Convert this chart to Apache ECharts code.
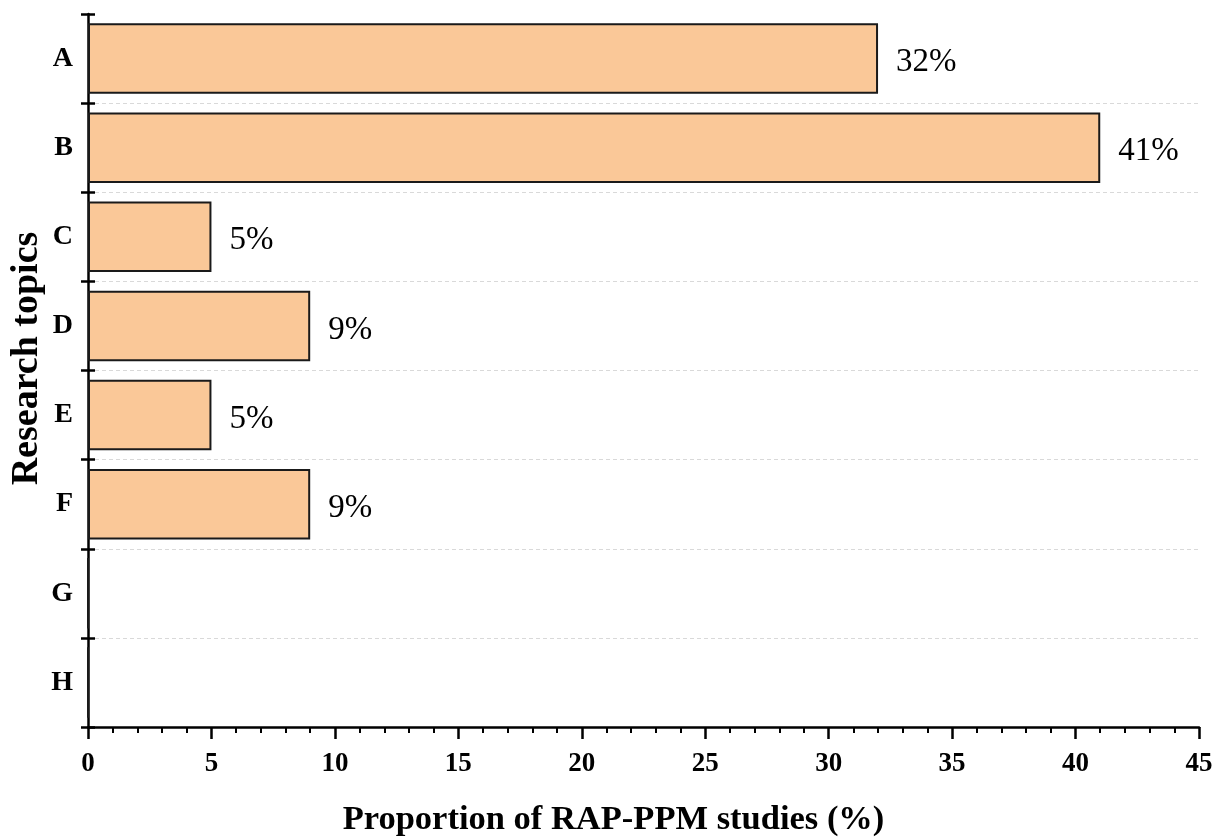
<!DOCTYPE html>
<html>
<head>
<meta charset="utf-8">
<script src="https://cdn.jsdelivr.net/npm/echarts@6/dist/echarts.min.js"></script>
<style>
html,body{margin:0;padding:0;background:#fff;}
#c{width:1222px;height:840px;}
</style>
</head>
<body>
<div id="c"></div>
<script>
const categories = ['A', 'B', 'C', 'D', 'E', 'F', 'G', 'H'];
const proportions = [32, 41, 5, 9, 5, 9, 0, 0];
const xTicks = [0, 5, 10, 15, 20, 25, 30, 35, 40, 45];
const xTitle = 'Proportion of RAP-PPM studies (%)';
const yTitle = 'Research topics';

const serif = '"Liberation Serif", "Times New Roman", serif';
const chart = echarts.init(document.getElementById('c'));
chart.setOption({
  backgroundColor: '#fff',
  animation: false,
  grid: { left: 88, right: 23, top: 14, bottom: 113, containLabel: false, outerBoundsMode: 'none' },
  xAxis: {
    type: 'value',
    min: xTicks[0],
    max: xTicks[xTicks.length - 1],
    interval: 5,
    name: xTitle,
    nameLocation: 'middle',
    nameGap: 76,
    nameTextStyle: { fontFamily: serif, fontWeight: 'bold', fontSize: 34.5, color: '#000', padding: [0, 60, 0, 0] },
    axisLine: { show: true, lineStyle: { color: '#000', width: 2.5 } },
    axisTick: { show: true, inside: false, length: 12, lineStyle: { color: '#000', width: 2.5 } },
    minorTick: { show: true, splitNumber: 5, length: 6, lineStyle: { color: '#000', width: 2 } },
    axisLabel: { fontFamily: serif, fontWeight: 'bold', fontSize: 27, color: '#000', margin: 24 },
    splitLine: { show: false }
  },
  yAxis: [{
    type: 'category',
    data: categories,
    inverse: true,
    name: yTitle,
    nameLocation: 'middle',
    nameMoveOverlap: false,
    nameGap: 42,
    nameTextStyle: { fontFamily: serif, fontWeight: 'bold', fontSize: 38, color: '#000', padding: [0, 0, 0, 24] },
    axisLine: { show: true, lineStyle: { color: '#000', width: 2.5 } },
    axisTick: { show: true, inside: false, length: 7, lineStyle: { color: '#000', width: 2.5 } },
    axisLabel: { fontFamily: serif, fontWeight: 'bold', fontSize: 28, color: '#000', margin: 15 },
    splitLine: { show: true, interval: (i) => i > 0, lineStyle: { color: '#d9d9d9', type: [4, 3], width: 1 } }
  }, {
    type: 'category',
    data: categories,
    inverse: true,
    position: 'left',
    axisLine: { show: false },
    axisTick: { show: true, inside: true, length: 7, lineStyle: { color: '#000', width: 2.5 } },
    axisLabel: { show: false },
    splitLine: { show: false }
  }],
  series: [{
    type: 'bar',
    yAxisIndex: 0,
    data: proportions,
    barCategoryGap: '21%',
    itemStyle: { color: '#FAC898', borderColor: '#1a1a1a', borderWidth: 2 },
    label: {
      show: true,
      position: 'right',
      distance: 18,
      offset: [0, 4],
      fontFamily: serif,
      fontSize: 33,
      color: '#000',
      formatter: p => p.value ? p.value + '%' : ''
    }
  }]
});
</script>
</body>
</html>
